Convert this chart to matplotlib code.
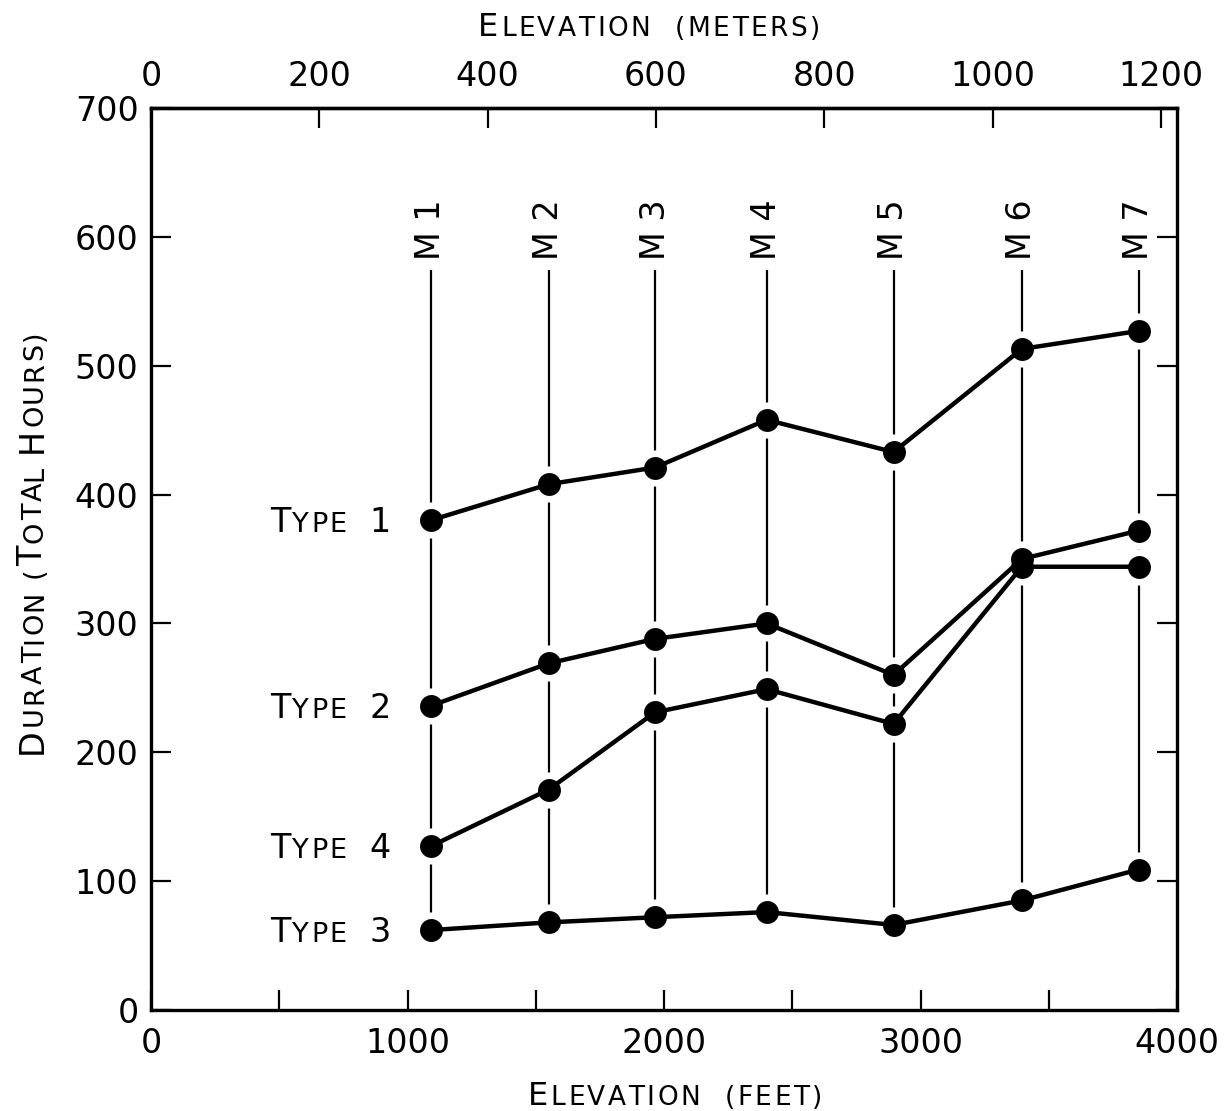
import matplotlib
matplotlib.use('Agg')
import matplotlib.pyplot as plt
from matplotlib.transforms import IdentityTransform
from matplotlib.font_manager import findfont, FontProperties
from matplotlib.ft2font import FT2Font


# stations M1..M7, elevation in feet
STATIONS = ['M 1', 'M 2', 'M 3', 'M 4', 'M 5', 'M 6', 'M 7']
ELEV_FT = [1090, 1550, 1965, 2400, 2895, 3395, 3850]

# duration, total hours
TYPE1 = [380, 408, 421, 458, 433, 513, 527]
TYPE2 = [236, 269, 288, 300, 260, 350, 372]
TYPE4 = [127, 171, 231, 249, 222, 344, 344]
TYPE3 = [62, 68, 72, 76, 66, 85, 109]

SERIES = [('1', TYPE1), ('2', TYPE2), ('4', TYPE4), ('3', TYPE3)]

FT_TICKS = [0, 1000, 2000, 3000, 4000]
FT_MINOR = [500, 1500, 2500, 3500]
M_TICKS = [0, 200, 400, 600, 800, 1000, 1200]
Y_TICKS = [0, 100, 200, 300, 400, 500, 600, 700]

W, H = 1229, 1111
BIG, SMALL = 24, 19.5

plt.rcParams['font.family'] = 'DejaVu Sans'

fig = plt.figure(figsize=(W / 100, H / 100), dpi=100)
ax = fig.add_axes([151 / W, 101 / H, 1026 / W, 902 / H])

FONT = FT2Font(findfont(FontProperties(family='DejaVu Sans')))


def advance(ch, size):
    FONT.set_size(size, 100)
    return FONT.load_char(ord(ch)).linearHoriAdvance / 65536


def lettering(px, py, parts, rot=0, track=2.0, align='left'):
    # small caps by hand, px/py in display pixels from the bottom left
    chars = [(c, size) for s, size in parts for c in s]
    steps = [advance(c, size) + track for c, size in chars]
    total = sum(steps) - track
    pos = 0 if align == 'left' else -total / 2
    dx, dy = (1, 0) if rot == 0 else (0, 1)
    for (c, size), st in zip(chars, steps):
        if c != ' ':
            fig.text(px + dx * pos, py + dy * pos, c, fontsize=size,
                     rotation=rot, rotation_mode='anchor', ha='left',
                     va='baseline', transform=IdentityTransform())
        pos += st


ax.set_xlim(0, 4000)
ax.set_ylim(0, 700)

# station lines, broken around each dot
ax.vlines(ELEV_FT, TYPE3, 574, color='black', lw=1.6, zorder=1)
for name, x in zip(STATIONS, ELEV_FT):
    ax.text(x, 582, name, rotation=90, ha='center', va='bottom', fontsize=BIG)

for _, vals in SERIES:
    ax.plot(ELEV_FT, vals, 'o', color='white', ms=26, mew=0, zorder=2)
for _, vals in SERIES:
    ax.plot(ELEV_FT, vals, '-', color='black', lw=3.2, zorder=3)
    ax.plot(ELEV_FT, vals, 'o', color='black', ms=16.5, mew=0, zorder=4)

ax.set_xticks(FT_TICKS)
ax.set_xticks(FT_MINOR, minor=True)
ax.set_yticks(Y_TICKS)
ax.tick_params(axis='both', which='both', direction='in', length=14.5,
               width=1.6, labelsize=BIG, top=False, right=True)
ax.tick_params(axis='x', pad=12)
ax.tick_params(axis='y', pad=9)
for sp in ax.spines.values():
    sp.set_linewidth(2.4)

sec = ax.secondary_xaxis('top', functions=(lambda f: f * 0.3048, lambda m: m / 0.3048))
sec.set_xticks(M_TICKS)
sec.tick_params(direction='in', length=14.5, width=1.6, labelsize=BIG, pad=11)
sec.spines['top'].set_linewidth(2.4)

# labels in small caps
lettering(649, H - 36, [('E', 23), ('LEVATION', 19), ('  ', 19), ('(METERS)', 19)],
          track=2.5, align='center')
lettering(675, H - 1105, [('E', 23), ('LEVATION', 19), ('  ', 19), ('(FEET)', 19)],
          track=2.5, align='center')
lettering(42, H - 542, [('D', BIG), ('URATION', SMALL), (' (', SMALL), ('T', BIG),
                        ('OTAL', SMALL), (' ', SMALL), ('H', BIG), ('OURS)', SMALL)],
          rot=90, align='center')

for num, vals in SERIES:
    py = ax.transData.transform((0, vals[0]))[1] - 12
    lettering(270, py, [('T', BIG), ('YPE', SMALL), ('  ', SMALL), (num, BIG)])

fig.savefig('out.png', dpi=100)
